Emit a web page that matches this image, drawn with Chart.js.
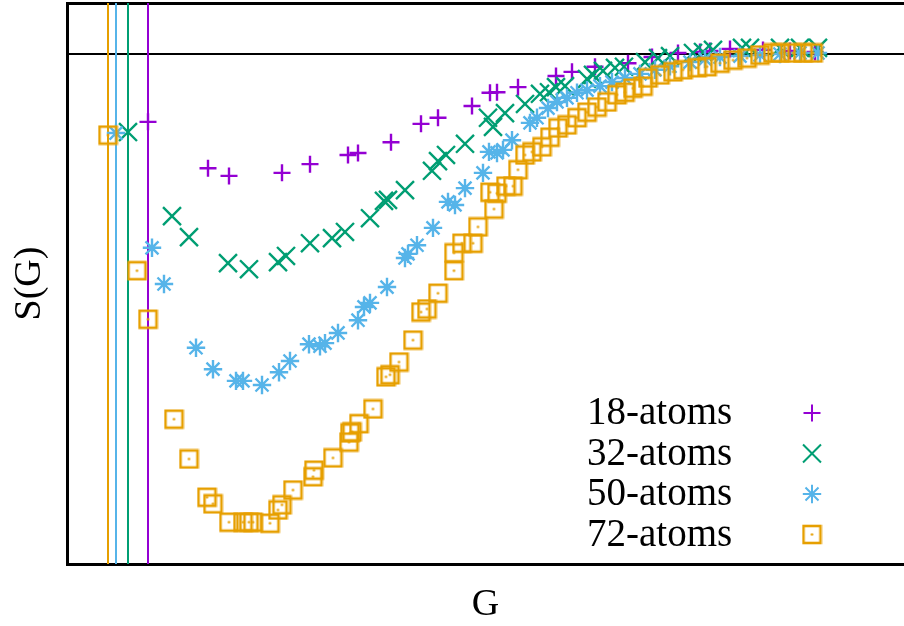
<!DOCTYPE html>
<html>
<head>
<meta charset="utf-8">
<script src="https://cdn.jsdelivr.net/npm/chart.js@4.4.1/dist/chart.umd.min.js"></script>
<style>
    html, body { margin: 0; padding: 0; background: #fff; }
    canvas { display: block; }
</style>
</head>
<body>
<canvas id="chartSG" width="904" height="626"></canvas>
<script>
// ============================================
// S(G) para clusters de distinto tamaño
// ============================================

const seriesLabels = ['18-atoms', '32-atoms', '50-atoms', '72-atoms'];
const seriesColors = ['#9400d3', '#009e73', '#56b4e9', '#e69f00'];

// 18 átomos
const g18 = [0.81, 1.41, 1.62, 2.15, 2.43, 2.81, 2.91, 3.24, 3.54, 3.71, 4.05, 4.23, 4.30, 4.51,
             4.89, 5.05, 5.28, 5.61, 5.85, 6.11, 6.33, 6.43, 6.63, 6.96, 7.23, 7.48];
const s18 = [0.867, 0.776, 0.761, 0.767, 0.784, 0.802, 0.806, 0.827, 0.863, 0.875, 0.898, 0.924, 0.925, 0.935,
             0.957, 0.965, 0.975, 0.982, 0.994, 1.002, 1.004, 1.006, 1.010, 1.008, 1.006, 1.004];

// 32 átomos
const g32 = [0.61, 1.05, 1.22, 1.61, 1.82, 2.11, 2.19, 2.43, 2.65, 2.78, 3.03, 3.17, 3.21, 3.38,
             3.65, 3.71, 3.79, 3.98, 4.21, 4.26, 4.38, 4.58, 4.73, 4.82, 4.89, 4.98, 5.20, 5.26,
             5.36, 5.48, 5.57, 5.78, 5.91, 6.03, 6.26, 6.36, 6.46, 6.75, 6.83, 7.13, 7.33, 7.51];
const s32 = [0.847, 0.682, 0.641, 0.590, 0.578, 0.592, 0.604, 0.629, 0.639, 0.651, 0.678, 0.712, 0.714, 0.733,
             0.771, 0.790, 0.802, 0.824, 0.875, 0.857, 0.884, 0.902, 0.922, 0.925, 0.935, 0.937, 0.951, 0.959,
             0.967, 0.973, 0.975, 0.984, 0.992, 0.996, 1.002, 1.004, 1.008, 1.012, 1.012, 1.012, 1.012, 1.012];

// 50 átomos
const g50 = [0.49, 0.85, 0.97, 1.29, 1.46, 1.69, 1.76, 1.95, 2.12, 2.23, 2.42, 2.53, 2.58, 2.71,
             2.91, 2.97, 3.03, 3.20, 3.38, 3.41, 3.50, 3.66, 3.81, 3.88, 3.98, 4.16, 4.22, 4.30,
             4.36, 4.45, 4.63, 4.70, 4.81, 4.90, 5.00, 5.10, 5.20, 5.33, 5.45, 5.58, 5.73, 5.88,
             6.03, 6.23, 6.38, 6.53, 6.73, 6.93, 7.13, 7.33, 7.51];
const s50 = [0.845, 0.620, 0.549, 0.424, 0.382, 0.359, 0.359, 0.351, 0.376, 0.398, 0.431, 0.427, 0.433, 0.453,
             0.478, 0.504, 0.512, 0.543, 0.600, 0.608, 0.625, 0.659, 0.710, 0.704, 0.737, 0.767, 0.808, 0.806,
             0.812, 0.831, 0.865, 0.875, 0.894, 0.906, 0.914, 0.924, 0.929, 0.937, 0.945, 0.953, 0.961, 0.969,
             0.976, 0.984, 0.990, 0.994, 0.996, 0.998, 1.000, 1.002, 1.002];

// 72 átomos
const g72 = [0.41, 0.70, 0.81, 1.07, 1.22, 1.40, 1.46, 1.62, 1.76, 1.82, 1.86, 2.03, 2.11, 2.15,
             2.26, 2.46, 2.47, 2.66, 2.82, 2.83, 2.85, 2.92, 3.06, 3.19, 3.23, 3.32, 3.46, 3.54,
             3.60, 3.71, 3.87, 3.87, 3.95, 4.06, 4.11, 4.27, 4.23, 4.30, 4.39, 4.46, 4.51, 4.58,
             4.65, 4.75, 4.83, 4.91, 5.00, 5.10, 5.20, 5.30, 5.40, 5.50, 5.58, 5.66, 5.76, 5.81,
             5.93, 6.06, 6.16, 6.30, 6.40, 6.53, 6.66, 6.80, 6.93, 7.06, 7.13, 7.26, 7.36, 7.46];
const s72 = [0.841, 0.575, 0.480, 0.284, 0.206, 0.131, 0.118, 0.082, 0.082, 0.082, 0.082, 0.080, 0.106, 0.116,
             0.145, 0.171, 0.184, 0.208, 0.239, 0.257, 0.259, 0.275, 0.304, 0.367, 0.371, 0.396, 0.439, 0.494,
             0.500, 0.531, 0.575, 0.610, 0.629, 0.629, 0.661, 0.696, 0.729, 0.727, 0.741, 0.741, 0.773, 0.802,
             0.808, 0.818, 0.837, 0.855, 0.861, 0.875, 0.886, 0.896, 0.906, 0.920, 0.925, 0.933, 0.937, 0.953,
             0.959, 0.965, 0.969, 0.973, 0.975, 0.982, 0.988, 0.992, 0.998, 1.002, 1.002, 1.002, 1.002, 1.002];

// Líneas verticales (una por serie) y referencia S(G) = 1
const cutoffG = [0.81, 0.61, 0.49, 0.41];
const refS = 1;

const xMin = 0, xMax = 8.37;
const yMin = 0, yMax = 1.1;

const pts = (g, s) => g.map((x, i) => ({ x: x, y: s[i] }));

// Cuadrado con punto central (estilo gnuplot)
function squareDot(color) {
    const c = document.createElement('canvas');
    c.width = 21;
    c.height = 21;
    const cx = c.getContext('2d');
    cx.strokeStyle = color;
    cx.lineWidth = 2.6;
    cx.strokeRect(2, 2, 17, 17);
    cx.fillStyle = color;
    cx.beginPath();
    cx.arc(10.5, 10.5, 1.3, 0, Math.PI * 2);
    cx.fill();
    return c;
}

const seriesG = [g18, g32, g50, g72];
const seriesS = [s18, s32, s50, s72];
const seriesStyles = ['cross', 'crossRot', 'star', squareDot(seriesColors[3])];
const seriesRadius = [8.5, 12.7, 9.2, 9];

const datasets = [];

seriesLabels.forEach((label, i) => {
    datasets.push({
        label: label,
        data: pts(seriesG[i], seriesS[i]),
        showLine: false,
        pointStyle: seriesStyles[i],
        pointRadius: seriesRadius[i],
        pointBorderWidth: 2.4,
        borderColor: seriesColors[i],
        backgroundColor: 'rgba(0,0,0,0)',
        order: 4 - i
    });
});

cutoffG.forEach((g, i) => {
    datasets.push({
        data: [{ x: g, y: yMin }, { x: g, y: yMax }],
        showLine: true,
        pointRadius: 0,
        borderColor: seriesColors[i],
        borderWidth: 2,
        order: 10
    });
});

datasets.push({
    data: [{ x: xMin, y: refS }, { x: xMax, y: refS }],
    showLine: true,
    pointRadius: 0,
    borderColor: '#000',
    borderWidth: 1.8,
    order: 20
});

// Leyenda dentro del área del gráfico (texto a la izquierda, símbolo a la derecha)
const legendInside = {
    id: 'legendInside',
    afterDatasetsDraw(chart) {
        const ctx = chart.ctx;
        const area = chart.chartArea;
        ctx.save();
        ctx.font = '39px "Liberation Serif"';
        ctx.textBaseline = 'middle';
        ctx.textAlign = 'left';
        chart.data.datasets.filter(d => d.label).forEach((d, i) => {
            const y = area.bottom - 151 + i * 40.5;
            ctx.fillStyle = '#000';
            ctx.fillText(d.label, area.left + 520, y + 1);
            ctx.strokeStyle = d.borderColor;
            ctx.fillStyle = d.borderColor;
            ctx.lineWidth = 2;
            Chart.helpers.drawPoint(ctx, {
                pointStyle: d.pointStyle,
                radius: d.pointRadius,
                rotation: 0,
                borderWidth: 2
            }, area.left + 745, y);
        });
        ctx.restore();
    }
};

const titleFont = { family: '"Liberation Serif"', size: 38, lineHeight: 1 };
const hidden = {
    ticks: { display: false },
    grid: { display: false, drawTicks: false },
    border: { display: true, width: 3, color: '#000' }
};

new Chart(document.getElementById('chartSG'), {
    type: 'scatter',
    data: { datasets: datasets },
    options: {
        responsive: false,
        animation: false,
        events: [],
        devicePixelRatio: 1,
        layout: { autoPadding: false, padding: { top: 3, right: 0, bottom: 0, left: 0 } },
        plugins: {
            legend: { display: false },
            tooltip: { enabled: false }
        },
        scales: {
            x: {
                type: 'linear',
                position: 'bottom',
                min: xMin,
                max: xMax,
                ...hidden,
                title: {
                    display: true,
                    text: 'G',
                    color: '#000',
                    font: titleFont,
                    padding: { top: 22, bottom: 2 }
                }
            },
            xTop: {
                type: 'linear',
                position: 'top',
                min: xMin,
                max: xMax,
                ...hidden
            },
            y: {
                type: 'linear',
                position: 'left',
                min: yMin,
                max: yMax,
                ...hidden,
                title: {
                    display: true,
                    text: 'S(G)',
                    color: '#000',
                    font: titleFont,
                    padding: { top: 11, bottom: 18 }
                }
            }
        }
    },
    plugins: [legendInside]
});
</script>
</body>
</html>
